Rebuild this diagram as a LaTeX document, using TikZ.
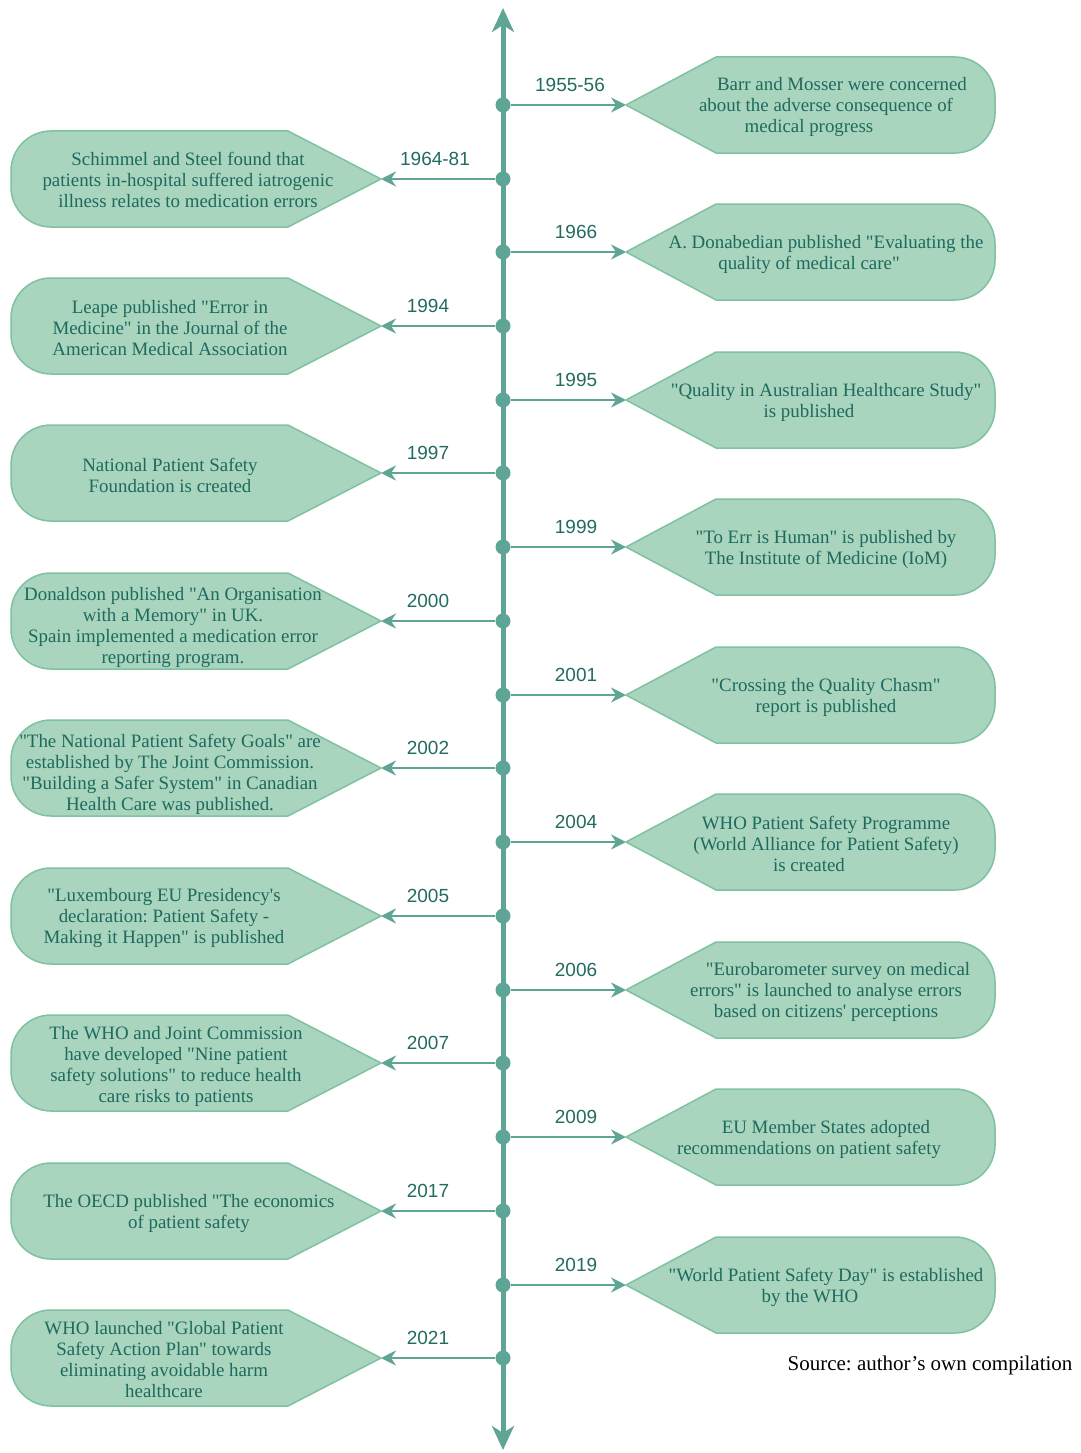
\documentclass[tikz,border=0pt]{standalone}
\usepackage{fontspec}
\setmainfont{Liberation Serif}
\newfontfamily\yearfont{Liberation Sans}
\usetikzlibrary{arrows.meta}
\frenchspacing
\definecolor{axiscol}{HTML}{5FA596}
\definecolor{boxfill}{HTML}{A9D4BD}
\definecolor{boxline}{HTML}{7FC2A2}
\definecolor{txtcol}{HTML}{1E6A5E}
\definecolor{yearcol}{HTML}{236B61}
\newcommand\trailpad{\hspace*{34pt}}
\newcommand\qmk{\textquotedbl}
\newcommand\rightevt[5]{%
  \node[dotnode] (d#1) at (503,#2) {};
  \path[shapebox] (626,#2) -- (716,#2-48) -- (955,#2-48) arc[start angle=-90,end angle=0,radius=40]
     -- (995,#2+8) arc[start angle=0,end angle=90,radius=40] -- (716,#2+48) -- cycle;
  \coordinate (p#1) at (626,#2);
  \node[evtext] (t#1) at (826,#2+2) {#5};
  \node[yearlabel] (y#1) at (#4,#2-20) {#3};
  \draw[conn] (d#1) -- (p#1);
}
\newcommand\leftevt[7]{%
  \node[dotnode] (d#1) at (503,#2) {};
  \path[shapebox] (381,#2) -- (288,#2-48) -- (51,#2-48) arc[start angle=-90,end angle=-180,radius=40]
     -- (11,#2+8) arc[start angle=180,end angle=90,radius=40] -- (288,#2+48) -- cycle;
  \coordinate (p#1) at (381,#2);
  \node[evtext] (t#1) at (#4,#2+#7) {#5};
  \node[yearlabel] (y#1) at (#6,#2-20) {#3};
  \draw[conn] (d#1) -- (p#1);
}
\begin{document}
\frenchspacing
\begin{tikzpicture}[x=1pt,y=-1pt,
  shapebox/.style={fill=boxfill,draw=boxline,line width=1.5pt,line join=round},
  evtext/.style={text=txtcol,align=center,font=\fontsize{18.9}{21}\selectfont,inner sep=0pt},
  yearlabel/.style={text=yearcol,font=\yearfont\fontsize{19}{22}\selectfont,inner sep=0pt},
  dotnode/.style={circle,fill=axiscol,minimum size=15pt,inner sep=0pt},
  conn/.style={draw=axiscol,line width=2.8pt,-{Stealth[length=15pt,width=15pt,inset=5pt]}},
  axisline/.style={draw=axiscol,line width=5pt,{Stealth[length=24pt,width=22pt,inset=7pt]}-{Stealth[length=24pt,width=22pt,inset=7pt]}}]
\useasboundingbox (0,0) rectangle (1080,1453);
\coordinate (axtop) at (503,8);
\coordinate (axbot) at (503,1450);
\draw[axisline] (axbot) -- (axtop);

\rightevt{a}{105}{1955-56}{570}{\hspace*{32pt}Barr and Mosser were concerned\\about the adverse consequence of\\medical progress\trailpad}
\leftevt{b}{179}{1964-81}{188}{Schimmel and Steel found that\\patients in-hospital suffered iatrogenic\\illness relates to medication errors}{435}{1}
\rightevt{c}{252}{1966}{576}{A. Donabedian published \qmk Evaluating the\\quality of medical care\qmk\trailpad}
\leftevt{d}{326}{1994}{170}{Leape published \qmk Error in\\Medicine\qmk\ in the Journal of the\\American Medical Association}{428}{2}
\rightevt{e}{400}{1995}{576}{\qmk Quality in Australian Healthcare Study\qmk\\is published\trailpad}
\leftevt{f}{473}{1997}{170}{National Patient Safety\\Foundation is created}{428}{2}
\rightevt{g}{547}{1999}{576}{\qmk To Err is Human\qmk\ is published by\\The Institute of Medicine (IoM)}
\leftevt{h}{621}{2000}{173}{Donaldson published \qmk An Organisation\\with a Memory\qmk\ in UK.\\Spain implemented a medication error\\reporting program.}{428}{6}
\rightevt{i}{695}{2001}{576}{\qmk Crossing the Quality Chasm\qmk\\report is published}
\leftevt{j}{768}{2002}{170}{\qmk The National Patient Safety Goals\qmk\ are\\established by The Joint Commission.\\\qmk Building a Safer System\qmk\ in Canadian\\Health Care was published.}{428}{6}
\rightevt{k}{842}{2004}{576}{WHO Patient Safety Programme\\(World Alliance for Patient Safety)\\is created\trailpad}
\leftevt{l}{916}{2005}{164}{\qmk Luxembourg EU Presidency\textquotesingle s\\declaration: Patient Safety -\\Making it Happen\qmk\ is published}{428}{2}
\rightevt{m}{990}{2006}{576}{\hspace*{24pt}\qmk Eurobarometer survey on medical\\errors\qmk\ is launched to analyse errors\\based on citizens\textquotesingle\ perceptions}
\leftevt{n}{1063}{2007}{176}{The WHO and Joint Commission\\have developed \qmk Nine patient\\safety solutions\qmk\ to reduce health\\care risks to patients}{428}{3}
\rightevt{o}{1137}{2009}{576}{EU Member States adopted\\recommendations on patient safety\trailpad}
\leftevt{q}{1211}{2017}{189}{The OECD published \qmk The economics\\of patient safety}{428}{2}
\rightevt{r}{1285}{2019}{576}{\qmk World Patient Safety Day\qmk\ is established\\by the WHO\hspace*{32pt}}
\leftevt{s}{1358}{2021}{164}{WHO launched \qmk Global Patient\\Safety Action Plan\qmk\ towards\\eliminating avoidable harm\\healthcare}{428}{2}

\node[font=\fontsize{21}{24}\selectfont,inner sep=0pt] (src) at (930,1365) {Source: author’s own compilation};
\end{tikzpicture}
\end{document}
